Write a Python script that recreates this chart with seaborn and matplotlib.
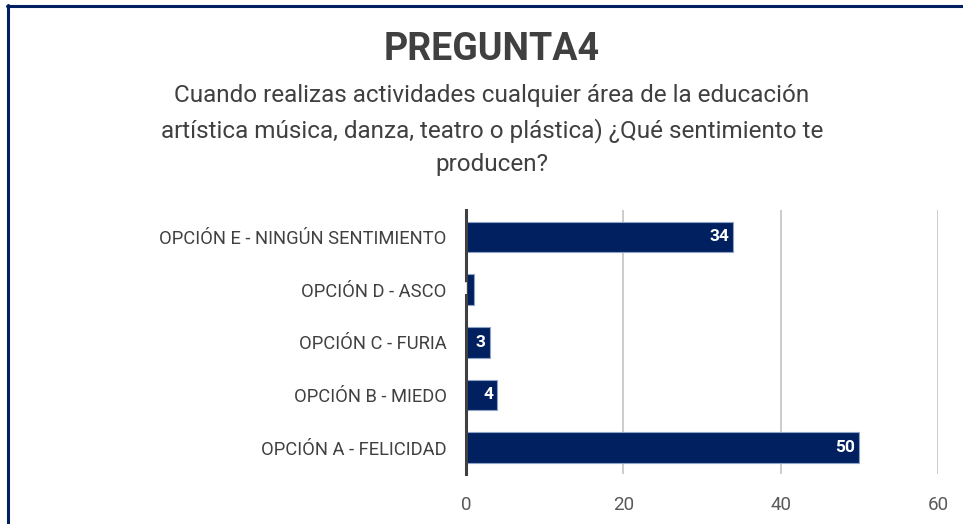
import matplotlib
matplotlib.use("Agg")
import matplotlib.pyplot as plt
import seaborn as sns
import pandas as pd
from matplotlib.lines import Line2D

# datos del gráfico
opciones = [
    "OPCIÓN E - NINGÚN SENTIMIENTO",
    "OPCIÓN D - ASCO",
    "OPCIÓN C - FURIA",
    "OPCIÓN B - MIEDO",
    "OPCIÓN A - FELICIDAD",
]
respuestas = [34, 1, 3, 4, 50]
ticks_x = [0, 20, 40, 60]

titulo = "PREGUNTA4"
subtitulo = ("Cuando realizas actividades cualquier área de la educación\n"
             "artística música, danza, teatro o plástica) ¿Qué sentimiento te\n"
             "producen?")

df = pd.DataFrame({"opcion": opciones, "respuestas": respuestas})

sns.set_style("white")
plt.rcParams["font.family"] = ["Roboto", "DejaVu Sans"]

gris = "#404040"
azul = "#002060"

fig = plt.figure(figsize=(9.63, 5.24), dpi=100)
ax = fig.add_axes([0.4839, 0.0954, 0.4901, 0.503])

sns.barplot(data=df, x="respuestas", y="opcion", orient="h", color=azul,
            saturation=1, width=0.58, edgecolor="#8fa3c8", linewidth=0.8, ax=ax)

ax.set_xlim(0, 60)
ax.set_xticks(ticks_x)
ax.set_xlabel("")
ax.set_ylabel("")
ax.xaxis.grid(True, color="#c8c8c8", linewidth=1.3)
ax.set_axisbelow(True)
for s in ["top", "right", "bottom"]:
    ax.spines[s].set_visible(False)
ax.spines["left"].set_color(gris)
ax.spines["left"].set_linewidth(2.2)
ax.spines["left"].set_zorder(5)
ax.tick_params(axis="y", length=0, pad=14, labelsize=13.2, labelcolor=gris)
ax.tick_params(axis="x", length=0, pad=16, labelsize=13.5, labelcolor="#595959")

# etiquetas de valor dentro de la barra
textos = ax.bar_label(ax.containers[0], padding=-3, color="white",
                      fontsize=12.5, fontweight="bold")
for t in textos:
    t.set_ha("right")
    t.set_zorder(6)

fig.text(0.511, 0.905, titulo, ha="center", va="center", fontsize=27,
         fontweight="bold", color=gris)
fig.text(0.511, 0.752, subtitulo, ha="center", va="center", fontsize=17.5,
         color=gris, linespacing=1.55)

# borde del cuadro
fig.add_artist(Line2D([0.007, 1.0], [0.9895, 0.9895], color=azul, linewidth=2.2,
                      transform=fig.transFigure))
fig.add_artist(Line2D([0.0083, 0.0083], [0.0, 0.991], color=azul, linewidth=2.2,
                      transform=fig.transFigure))

fig.savefig("out.png", dpi=100, facecolor="white")
